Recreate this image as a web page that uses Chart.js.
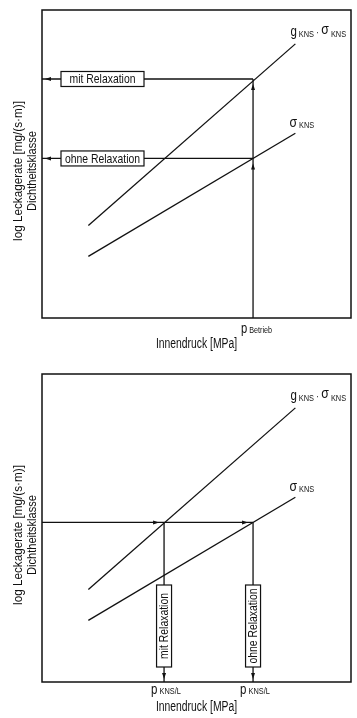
<!DOCTYPE html>
<html><head><meta charset="utf-8">
<script src="https://cdn.jsdelivr.net/npm/chart.js@4.4.1/dist/chart.umd.min.js"></script>
<style>
html,body{margin:0;padding:0;background:#fff;}
#wrap{position:relative;width:357px;height:718px;}
.c{position:absolute;left:0;width:357px;height:359px;}
</style></head>
<body><div id="wrap">
<div class="c" style="top:0"><canvas id="top" width="357" height="359"></canvas></div>
<div class="c" style="top:359px"><canvas id="bottom" width="357" height="359"></canvas></div>
</div>
<script>
// ---- data (relative units 0..100 on both axes) ----
const lineX = [15, 82];            // Innendruck range of both curves
const gSigmaY = [30, 89];          // g_KNS · σ_KNS curve
const sigmaY = [20, 60];           // σ_KNS curve
const pBetrieb = 68.3;             // operating pressure (top chart)
const levelMit = 77.6;             // leak level with relaxation (top chart)
const levelOhne = 51.8;            // leak level without relaxation (top chart)
const levelClass = 51.8;           // tightness class level (bottom chart)
const pKnsMit = 39.5;              // p_KNS/L with relaxation (bottom chart)
const pKnsOhne = 68.3;             // p_KNS/L without relaxation (bottom chart)
const xTitle = 'Innendruck [MPa]';
const yTitle = ['log Leckagerate [mg/(s·m)]', 'Dichtheitsklasse'];

const FONT = '"Liberation Sans",Arial,sans-serif';
const INK = '#111';

function pts(xs, ys){ return xs.map((x,i)=>({x:x,y:ys[i]})); }
function ds(data){ return {data:data, borderColor:INK, borderWidth:1.3, pointRadius:0, fill:false, tension:0}; }

// condensed text: horizontal factor f
function ctext(ctx, s, x, y, size, f, align, base){
  ctx.save(); ctx.font=size+'px '+FONT; ctx.textAlign=align||'left'; ctx.textBaseline=base||'alphabetic';
  ctx.translate(x,y); ctx.scale(f,1); ctx.fillText(s,0,0);
  const w=ctx.measureText(s).width*f; ctx.restore(); return w;
}
function tri(ctx, x, y, dir){ // filled small arrowhead with tip at x,y
  const L=6, W=2;
  ctx.beginPath();
  if(dir==='up'){ctx.moveTo(x,y);ctx.lineTo(x-W,y+L);ctx.lineTo(x+W,y+L);}
  if(dir==='down'){ctx.moveTo(x,y);ctx.lineTo(x-W,y-L);ctx.lineTo(x+W,y-L);}
  if(dir==='left'){ctx.moveTo(x,y);ctx.lineTo(x+L,y-W);ctx.lineTo(x+L,y+W);}
  if(dir==='right'){ctx.moveTo(x,y);ctx.lineTo(x-L,y-W);ctx.lineTo(x-L,y+W);}
  ctx.closePath(); ctx.fill();
}
function runs(ctx, x, y, parts, f){ // parts: [text,size,dy]
  parts.forEach(p=>{ x+=ctext(ctx, p[0], x, y+(p[2]||0), p[1], f); });
}
function hBox(ctx, x1, x2, yc, h, text){
  ctx.fillStyle='#fff'; ctx.fillRect(x1, yc-h/2, x2-x1, h);
  ctx.lineWidth=1.2; ctx.strokeStyle=INK; ctx.strokeRect(x1, yc-h/2, x2-x1, h);
  ctx.fillStyle=INK; ctext(ctx, text, (x1+x2)/2, yc+0.5, 13, 0.8, 'center', 'middle');
}
function vBox(ctx, xc, y1, y2, w, text){
  ctx.fillStyle='#fff'; ctx.fillRect(xc-w/2, y1, w, y2-y1);
  ctx.lineWidth=1.2; ctx.strokeStyle=INK; ctx.strokeRect(xc-w/2, y1, w, y2-y1);
  ctx.save(); ctx.translate(xc+0.5,(y1+y2)/2); ctx.rotate(-Math.PI/2);
  ctx.fillStyle=INK; ctext(ctx, text, 0, 0, 13, 0.8, 'center', 'middle'); ctx.restore();
}

function common(ctx, chart){
  const a=chart.chartArea, xs=chart.scales.x, ys=chart.scales.y;
  ctx.strokeStyle=INK; ctx.lineWidth=1.5; ctx.strokeRect(a.left, a.top, a.right-a.left, a.bottom-a.top);
  ctx.fillStyle=INK;
  // curve labels
  const gx=xs.getPixelForValue(lineX[1]), gy=ys.getPixelForValue(gSigmaY[1]);
  runs(ctx, gx-5, gy-8, [['g',14,0],[' KNS',9,1],[' · ',10,0],['σ',15,-2],[' KNS',9,1]], 0.82);
  const sy=ys.getPixelForValue(sigmaY[1]);
  runs(ctx, gx-6, sy-5, [['σ',15,-1],[' KNS',9,0]], 0.82);
  // y title
  const cy=(a.top+a.bottom)/2+7;
  ctx.save(); ctx.translate(0,cy); ctx.rotate(-Math.PI/2);
  ctext(ctx, yTitle[0], 0, 18, 13, 0.9, 'center', 'middle');
  ctext(ctx, yTitle[1], 0, 32, 13, 0.85, 'center', 'middle');
  ctx.restore();
}

const topPlugin={id:'topAnn', afterDatasetsDraw(chart){
  const ctx=chart.ctx, a=chart.chartArea, xs=chart.scales.x, ys=chart.scales.y;
  ctx.save();
  common(ctx, chart);
  const px=xs.getPixelForValue(pBetrieb), ym=ys.getPixelForValue(levelMit), yo=ys.getPixelForValue(levelOhne);
  hBox(ctx, a.left+19, a.left+102, ym, 15, 'mit Relaxation');
  hBox(ctx, a.left+19, a.left+102, yo, 15, 'ohne Relaxation');
  ctx.fillStyle=INK;
  tri(ctx, a.left+3, ym, 'left'); tri(ctx, a.left+3, yo, 'left');
  tri(ctx, px, ym+5, 'up'); tri(ctx, px, yo+5, 'up');
  runs(ctx, px-12, a.bottom+15, [['p',14,0],[' Betrieb',9,0]], 0.8);
  ctext(ctx, xTitle, (a.left+a.right)/2, a.bottom+26, 14, 0.74, 'center', 'middle');
  ctx.restore();
}};

const botPlugin={id:'botAnn', afterDatasetsDraw(chart){
  const ctx=chart.ctx, a=chart.chartArea, xs=chart.scales.x, ys=chart.scales.y;
  ctx.save();
  common(ctx, chart);
  const yl=ys.getPixelForValue(levelClass), p1=xs.getPixelForValue(pKnsMit), p2=xs.getPixelForValue(pKnsOhne);
  vBox(ctx, p1, a.top+211, a.top+293, 15, 'mit Relaxation');
  vBox(ctx, p2, a.top+211, a.top+293, 15, 'ohne Relaxation');
  ctx.fillStyle=INK;
  tri(ctx, p1-5, yl, 'right'); tri(ctx, p2-5, yl, 'right');
  tri(ctx, p1, a.bottom-3, 'down'); tri(ctx, p2, a.bottom-3, 'down');
  runs(ctx, p1-13, a.bottom+12, [['p',14,0],[' KNS/L',9,0]], 0.82);
  runs(ctx, p2-13, a.bottom+12, [['p',14,0],[' KNS/L',9,0]], 0.82);
  ctext(ctx, xTitle, (a.left+a.right)/2, a.bottom+25, 14, 0.74, 'center', 'middle');
  ctx.restore();
}};

function opts(pad){
  return {responsive:false, animation:false, devicePixelRatio:1,
    layout:{padding:pad},
    plugins:{legend:{display:false}, tooltip:{enabled:false}},
    scales:{x:{type:'linear',min:0,max:100,display:false}, y:{type:'linear',min:0,max:100,display:false}}};
}

new Chart(document.getElementById('top'), {type:'line',
  data:{datasets:[
    ds(pts(lineX, gSigmaY)), ds(pts(lineX, sigmaY)),
    ds([{x:0,y:levelMit},{x:pBetrieb,y:levelMit}]),
    ds([{x:0,y:levelOhne},{x:pBetrieb,y:levelOhne}]),
    ds([{x:pBetrieb,y:0},{x:pBetrieb,y:levelMit}])
  ]},
  options:opts({left:42,right:6,top:10,bottom:41}), plugins:[topPlugin]});

new Chart(document.getElementById('bottom'), {type:'line',
  data:{datasets:[
    ds(pts(lineX, gSigmaY)), ds(pts(lineX, sigmaY)),
    ds([{x:0,y:levelClass},{x:pKnsOhne,y:levelClass}]),
    ds([{x:pKnsMit,y:0},{x:pKnsMit,y:levelClass}]),
    ds([{x:pKnsOhne,y:0},{x:pKnsOhne,y:levelClass}])
  ]},
  options:opts({left:42,right:6,top:15,bottom:36}), plugins:[botPlugin]});
</script>
</body></html>
